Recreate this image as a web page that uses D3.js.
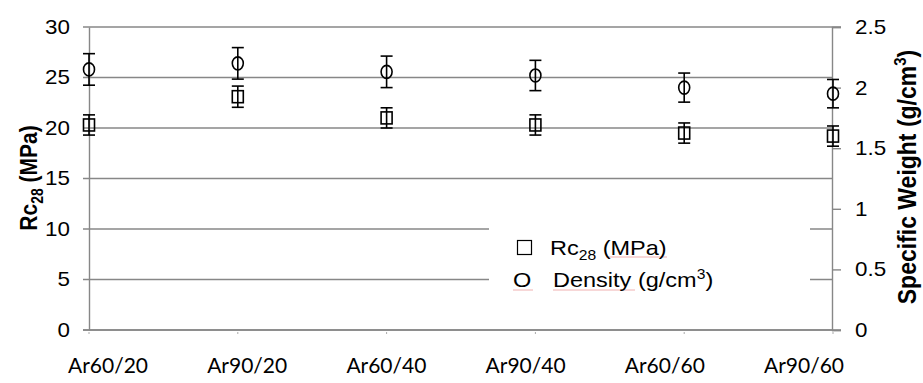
<!DOCTYPE html>
<html>
<head>
<meta charset="utf-8">
<script src="https://cdn.jsdelivr.net/npm/d3@7"></script>
<style>
  body { margin: 0; background: #fff; }
  svg { display: block; }
</style>
</head>
<body>
<div id="chart"></div>
<script>
// mixes, compressive strength (left axis), density (right axis)
var categories = ["Ar60/20", "Ar90/20", "Ar60/40", "Ar90/40", "Ar60/60", "Ar90/60"];
var rc28 = [20.3, 23.1, 21.0, 20.3, 19.5, 19.2];
var rc28Err = [1.0, 1.05, 1.0, 1.0, 1.0, 1.0];
var density = [2.15, 2.20, 2.13, 2.10, 2.00, 1.95];
var densityErr = [0.13, 0.13, 0.13, 0.125, 0.12, 0.117];
var leftTicks = [0, 5, 10, 15, 20, 25, 30];
var rightTicks = [0, 0.5, 1, 1.5, 2, 2.5];

var width = 923,
  height = 383;

var gridColor = "#878787";
var stretch = 1.12; // the original text is a little wide

var svg = d3.select("#chart")
  .append("svg")
  .attr("width", width)
  .attr("height", height);

var x = d3.scalePoint()
  .domain(categories)
  .range([89, 833]);

// category labels sit on their own evenly spread row
var xLabel = d3.scalePoint()
  .domain(categories)
  .range([108, 804]);

var yL = d3.scaleLinear()
  .domain([0, 30])
  .range([330, 27]);

var yR = d3.scaleLinear()
  .domain([0, 2.5])
  .range([330, 27]);

// gridlines
svg.append("g")
  .selectAll("line")
  .data(leftTicks)
  .enter().append("line")
  .attr("x1", 83)
  .attr("x2", function(d) { return d === 30 ? 841 : 832; })
  .attr("y1", function(d) { return yL(d); })
  .attr("y2", function(d) { return yL(d); })
  .style("stroke", gridColor)
  .style("stroke-width", 1.4);

// left axis
var leftAxis = d3.axisLeft(yL)
  .tickValues(leftTicks)
  .tickSize(0)
  .tickPadding(19);

var gl = svg.append("g")
  .attr("transform", "translate(89,0)")
  .call(leftAxis);
gl.select(".domain").style("stroke", gridColor).style("stroke-width", 1.4);
gl.selectAll("text")
  .attr("x", -19 / stretch)
  .attr("transform", "scale(" + stretch + ",1)")
  .style("font-family", "Liberation Sans, Arial, sans-serif")
  .style("font-size", "20px")
  .style("fill", "#000");

// right axis
var rightAxis = d3.axisRight(yR)
  .tickValues(rightTicks)
  .tickSize(9)
  .tickPadding(14)
  .tickFormat(d3.format("~g"));

var gr = svg.append("g")
  .attr("transform", "translate(832,0)")
  .call(rightAxis);
gr.select(".domain").style("stroke", gridColor).style("stroke-width", 1.4);
gr.selectAll("line").style("stroke", gridColor).style("stroke-width", 1.4);
gr.selectAll("text")
  .attr("x", 23 / stretch)
  .attr("transform", "scale(" + stretch + ",1)")
  .style("font-family", "Liberation Sans, Arial, sans-serif")
  .style("font-size", "20px")
  .style("fill", "#000");

// bottom axis line with small category ticks
svg.append("line")
  .attr("x1", 83).attr("x2", 841)
  .attr("y1", yL(0)).attr("y2", yL(0))
  .style("stroke", gridColor)
  .style("stroke-width", 1.4);

svg.append("g")
  .selectAll("line")
  .data(categories)
  .enter().append("line")
  .attr("x1", function(d) { return x(d); })
  .attr("x2", function(d) { return x(d); })
  .attr("y1", yL(0) + 2)
  .attr("y2", yL(0) + 4)
  .style("stroke", "#aaa")
  .style("stroke-width", 1);

svg.append("g")
  .selectAll("text")
  .data(categories)
  .enter().append("text")
  .attr("x", function(d) { return xLabel(d); })
  .attr("y", 373)
  .attr("text-anchor", "middle")
  .style("font-family", "Lato, 'Open Sans', sans-serif")
  .style("font-size", "21px")
  .text(function(d) { return d; });

// legend box hides the gridlines behind it
var legend = svg.append("g");
legend.append("rect")
  .attr("x", 489).attr("y", 218)
  .attr("width", 321).attr("height", 76)
  .style("fill", "#fff");

// faint spell-check underlines
legend.selectAll(".squiggle")
  .data([[513, 533, 290], [553, 635, 290], [606, 667, 257]])
  .enter().append("line")
  .attr("x1", function(d) { return d[0]; })
  .attr("x2", function(d) { return d[1]; })
  .attr("y1", function(d) { return d[2]; })
  .attr("y2", function(d) { return d[2]; })
  .style("stroke", "#f0b0b0")
  .style("stroke-width", 1);

legend.append("rect")
  .attr("x", 517.5).attr("y", 240.5)
  .attr("width", 14).attr("height", 14)
  .style("fill", "none")
  .style("stroke", "#000")
  .style("stroke-width", 1.2);

function legendText(px, py) {
  return legend.append("text")
    .attr("transform", "translate(" + px + "," + py + ") scale(" + stretch + ",1)")
    .style("font-family", "Liberation Sans, Arial, sans-serif")
    .style("font-size", "21px");
}

var t1 = legendText(550, 255);
t1.append("tspan").text("Rc");
t1.append("tspan").attr("dy", 5).style("font-size", "14px").text("28");
t1.append("tspan").attr("dy", -5).text(" (MPa)");

legendText(513, 287).text("O");

var t2 = legendText(553, 287);
t2.append("tspan").text("Density (g/cm");
t2.append("tspan").attr("dy", -8).style("font-size", "14px").text("3");
t2.append("tspan").attr("dy", 8).text(")");

// error bars
function errorBars(values, errs, scale) {
  var g = svg.append("g");
  values.forEach(function(v, i) {
    var cx = x(categories[i]);
    var lo = scale(v - errs[i]),
      hi = scale(v + errs[i]);
    g.append("line")
      .attr("x1", cx).attr("x2", cx)
      .attr("y1", lo).attr("y2", hi)
      .style("stroke", "#000").style("stroke-width", 1.6);
    [lo, hi].forEach(function(yy) {
      g.append("line")
        .attr("x1", cx - 6).attr("x2", cx + 6)
        .attr("y1", yy).attr("y2", yy)
        .style("stroke", "#000").style("stroke-width", 1.6);
    });
  });
}

errorBars(rc28, rc28Err, yL);
errorBars(density, densityErr, yR);

// square markers (Rc28)
svg.append("g")
  .selectAll("rect")
  .data(rc28)
  .enter().append("rect")
  .attr("x", function(d, i) { return x(categories[i]) - 5.5; })
  .attr("y", function(d) { return yL(d) - 6; })
  .attr("width", 11)
  .attr("height", 12)
  .style("fill", "none")
  .style("stroke", "#000")
  .style("stroke-width", 1.6);

// circle markers (density)
svg.append("g")
  .selectAll("ellipse")
  .data(density)
  .enter().append("ellipse")
  .attr("cx", function(d, i) { return x(categories[i]); })
  .attr("cy", function(d) { return yR(d); })
  .attr("rx", 5.5)
  .attr("ry", 6.5)
  .style("fill", "none")
  .style("stroke", "#000")
  .style("stroke-width", 1.6);

// axis titles (rotated, so the stretch goes on the text's y)
var lt = svg.append("text")
  .attr("transform", "translate(37,178) rotate(-90) scale(1," + stretch + ")")
  .attr("text-anchor", "middle")
  .style("font-family", "Liberation Sans, Arial, sans-serif")
  .style("font-weight", "bold")
  .style("font-size", "21px");
lt.append("tspan").text("Rc");
lt.append("tspan").attr("dy", 5).style("font-size", "14px").text("28");
lt.append("tspan").attr("dy", -5).text(" (MPa)");

var rt = svg.append("text")
  .attr("transform", "translate(916,177) rotate(-90) scale(1," + stretch + ")")
  .attr("text-anchor", "middle")
  .style("font-family", "Liberation Sans, Arial, sans-serif")
  .style("font-weight", "bold")
  .style("font-size", "23px");
rt.append("tspan").text("Specific Weight (g/cm");
rt.append("tspan").attr("dy", -9).style("font-size", "15px").text("3");
rt.append("tspan").attr("dy", 9).text(")");
</script>
</body>
</html>
